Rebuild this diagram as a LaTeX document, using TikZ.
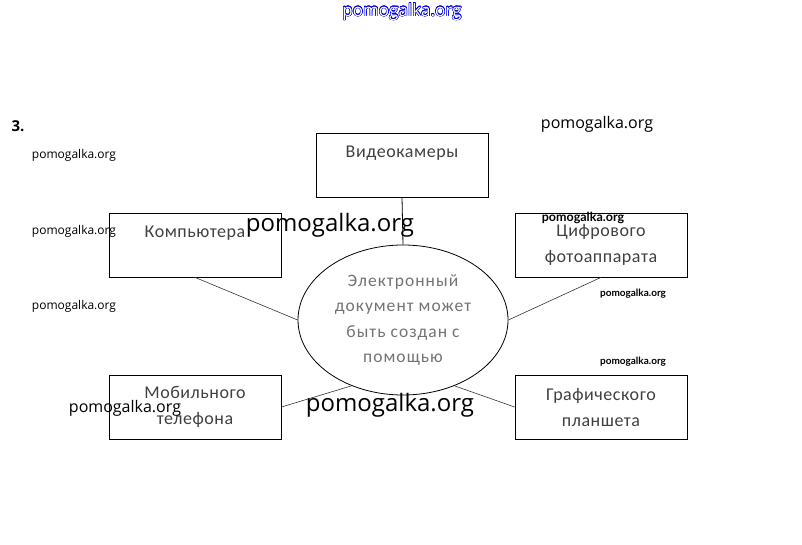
\documentclass[tikz,border=0pt]{standalone}
\usepackage{fontspec}
\setmainfont{Carlito}
\newfontfamily\wmfont{Open Sans}
\newfontfamily\wmbold{Lato}
\newfontfamily\boxfont[LetterSpace=3]{Carlito}
\newfontfamily\docfont[LetterSpace=6]{Carlito}
\usepackage{contour}
\contourlength{0.5pt}
\usetikzlibrary{shapes.geometric}
\begin{document}
\begin{tikzpicture}[x=1pt,y=-1pt,
	box/.style={draw,line width=0.8,minimum width=172,minimum height=64,align=center,
		font=\boxfont\fontsize{18}{26}\selectfont,text=black!75},
	wmark/.style={font=\wmfont\fontsize{#1}{#1}\selectfont,inner sep=0},
	wmarkb/.style={font=\wmbold\bfseries\fontsize{#1}{#1}\selectfont,inner sep=0}]
	\useasboundingbox (0,0) rectangle (802,545);
	% blocks
	\node[box] (video) at (402,165) {Видеокамеры\\ \mbox{}};
	\node[box] (comp) at (195,245) {Компьютера\\ \mbox{}};
	\node[box] (photo) at (601,245) {Цифрового\\фотоаппарата};
	\node[box] (mobile) at (195,407) {Мобильного\\телефона};
	\node[box] (tablet) at (601,407) {Графического\\планшета};
	\node[draw,ellipse,line width=0.8,minimum width=210,minimum height=150,inner sep=0,align=center,
		font=\docfont\fontsize{17.5}{25.5}\selectfont,text=black!55] (doc) at (403,320)
		{Электронный\\документ может\\быть создан с\\помощью};
	% links
	\draw[line width=0.8] (video.south)--(doc.north);
	\draw[line width=0.6,black!80] (comp.south)--(doc.west);
	\draw[line width=0.6,black!80] (photo.south)--(doc.east);
	\draw[line width=0.6,black!80] (mobile.east)--(doc.232);
	\draw[line width=0.6,black!80] (tablet.west)--(doc.308);
	% watermarks
	\node[wmark=17] (wm0) at (402,12) {\contour{blue!85!black}{\textcolor{white}{pomogalka.org}}};
	\node[wmark=15,font=\wmfont\bfseries\fontsize{15}{15}\selectfont] (num) at (18,126) {3.};
	\node[wmark=16] (wm1) at (597,124) {pomogalka.org};
	\node[wmark=12] (wm2) at (74,155) {pomogalka.org};
	\node[wmark=12] (wm3) at (74,231) {pomogalka.org};
	\node[wmark=12] (wm4) at (74,306) {pomogalka.org};
	\node[wmark=24] (wm5) at (330,225) {pomogalka.org};
	\node[wmarkb=12.5] (wm6) at (583,218) {pomogalka.org};
	\node[wmarkb=10] (wm7) at (633,294) {pomogalka.org};
	\node[wmarkb=10] (wm8) at (633,362) {pomogalka.org};
	\node[wmark=16] (wm9) at (125,408) {pomogalka.org};
	\node[wmark=24] (wm10) at (390,405) {pomogalka.org};
\end{tikzpicture}
\end{document}
